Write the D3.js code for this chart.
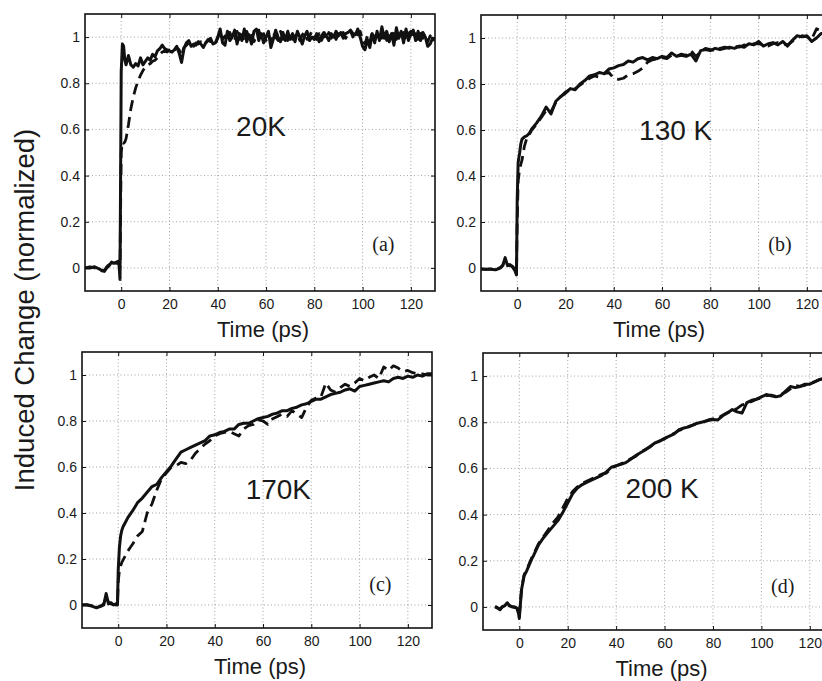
<!DOCTYPE html>
<meta charset="utf-8">
<script src="https://d3js.org/d3.v7.min.js"></script>
<style>
  body { margin: 0; background: #fff; }
  text { font-family: "Liberation Sans", Arial, sans-serif; fill: #1a1a1a; }
</style>
<div id="chart"></div>
<script>

// ---- data ----
var xTicks = [0, 20, 40, 60, 80, 100, 120];
var yTicks = [0, 0.2, 0.4, 0.6, 0.8, 1];

// (a) 20K : 1 ps sampling after the rise
var timeA = [-15, -13, -11, -9, -8, -7, -6, -5, -4, -3, -2, -1, -0.5, 0, 0.5, 1, 1.5].concat(d3.range(2, 131, 1));
var solidA = [0, 0, 0.005, -0.005, -0.012, -0.015, 0, 0.01, 0.025, 0.02, 0.025, 0.03, -0.05, 0.85, 0.97, 0.96, 0.9,
  0.88, 0.92, 0.88, 0.87, 0.885, 0.875, 0.91, 0.88, 0.895, 0.91, 0.9, 0.925, 0.915, 0.94, 0.95, 0.965, 0.95, 0.945, 0.94,
  0.935, 0.945, 0.96, 0.93, 0.89, 0.95, 0.975, 0.985, 0.96, 0.97, 0.965, 0.98, 0.97, 0.955, 0.975, 0.985, 0.995, 0.97, 0.975,
  1.0, 1.035, 0.975, 0.965, 1.025, 0.985, 1.0, 1.03, 0.97, 1.015, 0.985, 1.035, 0.98, 1.01, 0.97, 1.025, 1.035, 0.985, 1.015, 0.975,
  1.0, 1.025, 0.955, 0.99, 1.03, 1.0, 0.98, 1.02, 0.985, 1.025, 0.99, 1.015, 0.98, 1.025, 1.0, 0.97, 1.005, 1.025, 0.985, 1.0,
  0.99, 1.015, 0.98, 1.005, 1.02, 1.005, 0.985, 1.015, 1.0, 1.025, 1.005, 1.02, 0.995, 1.015, 1.02, 1.03, 1.015, 1.01, 1.035, 1.0,
  0.96, 0.945, 0.99, 0.955, 1.015, 0.975, 1.025, 0.985, 1.045, 0.995, 1.025, 0.98, 1.015, 0.965, 1.04, 0.995, 1.025, 0.975, 1.035, 0.985,
  1.015, 1.03, 0.985, 1.025, 0.985, 1.02, 1.0, 0.96, 0.97, 0.995, 0.985];
var dashedA = [0, 0.005, 0, -0.005, -0.01, -0.012, 0.005, 0.015, 0.02, 0.025, 0.02, 0.02, 0, 0.5, 0.545, 0.54, 0.545,
  0.56, 0.62, 0.69, 0.74, 0.78, 0.81, 0.835, 0.855, 0.87, 0.88, 0.885, 0.895, 0.9, 0.91, 0.925, 0.935, 0.94, 0.935, 0.945,
  0.95, 0.94, 0.955, 0.945, 0.92, 0.955, 0.965, 0.975, 0.97, 0.96, 0.975, 0.97, 0.98, 0.965, 0.975, 0.99, 0.98, 0.985, 0.97,
  0.995, 1.025, 0.99, 1.005, 0.98, 1.02, 0.995, 0.985, 1.025, 0.99, 1.01, 0.985, 1.025, 0.995, 1.015, 0.98, 1.005, 1.03, 0.99, 1.015,
  0.985, 1.01, 0.98, 1.02, 1.0, 0.985, 1.025, 0.99, 1.015, 0.985, 1.02, 0.99, 1.005, 1.015, 0.985, 1.01, 1.02, 0.99, 1.005, 1.025,
  1.0, 0.99, 1.015, 0.985, 1.01, 0.99, 1.02, 0.995, 1.015, 0.99, 1.015, 1.0, 1.02, 0.995, 1.015, 1.025, 1.0, 1.03, 1.01, 1.025,
  0.99, 0.97, 1.005, 0.975, 1.025, 0.99, 1.01, 1.025, 0.995, 1.035, 0.985, 1.015, 0.995, 1.025, 0.99, 1.015, 0.995, 1.02, 0.985, 1.015,
  1.025, 0.995, 1.015, 0.99, 1.025, 0.995, 1.015, 0.98, 1.005, 1.015, 1.0];

// (b) 130 K
var timeB = [-15, -13, -11, -9, -7, -6, -5, -4, -3, -2, -1, -0.3, 0, 0.4, 1, 1.5, 2, 3, 4, 5].concat(d3.range(6, 131, 2));
var solidB = [-0.005, -0.005, -0.005, -0.008, 0, 0.01, 0.045, 0.01, 0.015, 0.005, -0.01, -0.03, 0.3, 0.46, 0.5, 0.54, 0.56, 0.57, 0.575, 0.585,
  0.605, 0.63, 0.66, 0.7, 0.67, 0.725, 0.745, 0.76, 0.78, 0.775, 0.8, 0.815, 0.835, 0.84, 0.85, 0.845, 0.865, 0.87, 0.88,
  0.885, 0.9, 0.895, 0.91, 0.915, 0.905, 0.915, 0.91, 0.92, 0.915, 0.935, 0.92, 0.925, 0.92, 0.93, 0.9, 0.945, 0.95, 0.945,
  0.955, 0.95, 0.955, 0.96, 0.955, 0.965, 0.96, 0.975, 0.97, 0.985, 0.965, 0.975, 0.98, 0.97, 0.985, 0.965, 0.99, 1.01,
  1.005, 1.01, 0.985, 1.0, 1.02, 1.015, 1.02];
var dashedB = [-0.003, -0.006, -0.004, -0.006, 0.002, 0.012, 0.035, 0.015, 0.01, 0.008, -0.005, -0.02, 0.2, 0.38, 0.43, 0.45, 0.47, 0.53, 0.565, 0.58,
  0.6, 0.625, 0.655, 0.685, 0.68, 0.72, 0.745, 0.765, 0.775, 0.78, 0.795, 0.81, 0.825, 0.835, 0.83, 0.845, 0.85, 0.825, 0.82,
  0.825, 0.84, 0.845, 0.855, 0.87, 0.895, 0.905, 0.91, 0.915, 0.91, 0.925, 0.92, 0.93, 0.925, 0.945, 0.92, 0.94, 0.955, 0.95,
  0.945, 0.955, 0.96, 0.955, 0.965, 0.96, 0.97, 0.965, 0.975, 0.975, 0.97, 0.965, 0.975, 0.98, 0.975, 0.97, 0.985, 1.0,
  1.01, 1.005, 0.995, 1.04, 1.03, 1.035, 1.03];

// (c) 170K
var timeC = [-15, -13, -11, -9, -7, -6, -5, -4, -3, -2, -1, -0.3, 0, 0.5, 1, 1.5, 2, 3, 4, 5].concat(d3.range(6, 131, 2));
var solidC = [0, 0, -0.005, -0.012, -0.005, 0, 0.05, 0.005, 0.01, 0, 0.005, 0, 0.15, 0.25, 0.3, 0.325, 0.34, 0.36, 0.38, 0.395,
  0.41, 0.445, 0.465, 0.49, 0.515, 0.525, 0.555, 0.58, 0.605, 0.635, 0.665, 0.675, 0.685, 0.695, 0.705, 0.715, 0.735, 0.74,
  0.75, 0.755, 0.765, 0.765, 0.785, 0.79, 0.79, 0.8, 0.81, 0.815, 0.82, 0.83, 0.835, 0.845, 0.845, 0.855, 0.86, 0.87, 0.875,
  0.885, 0.895, 0.895, 0.905, 0.915, 0.92, 0.925, 0.935, 0.94, 0.93, 0.95, 0.955, 0.96, 0.965, 0.97, 0.975, 0.97, 0.985,
  0.99, 0.985, 0.995, 0.99, 1.0, 0.995, 1.005, 1.005];
var dashedC = [0, 0.002, -0.003, -0.01, -0.003, 0.005, 0.035, 0.01, 0.005, 0.003, 0, 0, 0.1, 0.15, 0.17, 0.185, 0.195, 0.215, 0.235, 0.25,
  0.265, 0.3, 0.32, 0.4, 0.44, 0.5, 0.55, 0.575, 0.6, 0.605, 0.62, 0.615, 0.63, 0.66, 0.68, 0.7, 0.715, 0.735, 0.745, 0.75,
  0.755, 0.745, 0.735, 0.765, 0.78, 0.785, 0.805, 0.8, 0.785, 0.81, 0.82, 0.83, 0.82, 0.845, 0.83, 0.815, 0.86, 0.89, 0.9,
  0.905, 0.965, 0.935, 0.925, 0.945, 0.96, 0.95, 0.965, 0.985, 0.975, 0.99, 1.0, 0.985, 1.035, 1.02, 1.04, 1.03, 1.015,
  1.02, 1.01, 1.005, 1.005, 1.0, 1.0];

// (d) 200 K
var timeD = [-10, -9, -8, -7, -6, -5, -4, -3, -2, -1, -0.3, 0, 0.5, 1, 2, 3, 4, 5].concat(d3.range(6, 131, 2));
var solidD = [0, -0.005, -0.012, 0, 0.005, 0.018, 0.005, 0, 0, -0.005, -0.03, -0.05, 0.02, 0.08, 0.135, 0.155, 0.18, 0.205,
  0.225, 0.27, 0.3, 0.325, 0.35, 0.375, 0.41, 0.45, 0.49, 0.515, 0.53, 0.54, 0.55, 0.56, 0.57, 0.585, 0.605, 0.612, 0.618,
  0.625, 0.64, 0.655, 0.668, 0.68, 0.695, 0.71, 0.718, 0.73, 0.74, 0.75, 0.768, 0.775, 0.78, 0.79, 0.797, 0.802, 0.808,
  0.812, 0.81, 0.828, 0.84, 0.855, 0.845, 0.84, 0.885, 0.895, 0.9, 0.91, 0.92, 0.915, 0.91, 0.915, 0.935, 0.955, 0.95,
  0.955, 0.965, 0.965, 0.975, 0.985, 0.99, 0.995, 1.0];
var dashedD = [0.003, -0.003, -0.01, 0.002, 0.006, 0.015, 0.004, 0.002, -0.002, -0.006, -0.025, -0.04, 0.03, 0.085, 0.14, 0.16, 0.185, 0.21,
  0.23, 0.275, 0.305, 0.335, 0.365, 0.39, 0.43, 0.47, 0.5, 0.52, 0.535, 0.545, 0.555, 0.565, 0.575, 0.58, 0.6, 0.61, 0.62,
  0.628, 0.642, 0.652, 0.67, 0.682, 0.693, 0.708, 0.72, 0.728, 0.742, 0.752, 0.765, 0.772, 0.782, 0.788, 0.8, 0.8, 0.81,
  0.815, 0.818, 0.83, 0.842, 0.85, 0.86, 0.875, 0.88, 0.89, 0.9, 0.905, 0.915, 0.918, 0.912, 0.92, 0.93, 0.945, 0.96,
  0.955, 0.96, 0.97, 0.975, 0.985, 0.99, 1.0, 1.0];

// ---- layout ----
var W = 822, H = 681;
var panels = [
  {left: 85,  top: 14,  width: 350, height: 277, time: timeA, solid: solidA, dashed: dashedA, temp: "20K",   tempAt: [47.6, 0.572], letter: "(a)", letterAt: [104, 0.072]},
  {left: 481, top: 15,  width: 350, height: 276, time: timeB, solid: solidB, dashed: dashedB, temp: "130 K", tempAt: [50.5, 0.558], letter: "(b)", letterAt: [104, 0.072]},
  {left: 82,  top: 352, width: 350, height: 276, time: timeC, solid: solidC, dashed: dashedC, temp: "170K",  tempAt: [52.8, 0.46],  letter: "(c)", letterAt: [104, 0.06]},
  {left: 483, top: 353, width: 351, height: 277, time: timeD, solid: solidD, dashed: dashedD, temp: "200 K", tempAt: [43.9, 0.473], letter: "(d)", letterAt: [104, 0.062]}
];

var svg = d3.select("#chart").append("svg")
  .attr("width", W)
  .attr("height", H);

panels.forEach(function(p, i) {
  var x = d3.scaleLinear().domain([-15, 130]).range([0, p.width]);
  var y = d3.scaleLinear().domain([-0.1, 1.1]).range([p.height, 0]);

  var g = svg.append("g").attr("transform", "translate(" + p.left + "," + p.top + ")");

  g.append("clipPath").attr("id", "clip" + i)
    .append("rect").attr("width", p.width).attr("height", p.height);

  // dotted grid
  g.selectAll(".gx").data(xTicks).enter().append("line")
    .attr("x1", function(d) { return x(d); }).attr("x2", function(d) { return x(d); })
    .attr("y1", 0).attr("y2", p.height)
    .attr("stroke", "#9a9a9a").attr("stroke-width", 0.9).attr("stroke-dasharray", "1,2.5");
  g.selectAll(".gy").data(yTicks).enter().append("line")
    .attr("y1", function(d) { return y(d); }).attr("y2", function(d) { return y(d); })
    .attr("x1", 0).attr("x2", p.width)
    .attr("stroke", "#9a9a9a").attr("stroke-width", 0.9).attr("stroke-dasharray", "1,2.5");

  // axes, matlab style: ticks inside, on all sides
  var tl = 4;
  g.append("g").attr("transform", "translate(0," + p.height + ")")
    .call(d3.axisBottom(x).tickValues(xTicks).tickSizeInner(-tl).tickSizeOuter(0).tickPadding(8).tickFormat(d3.format("d")));
  g.append("g")
    .call(d3.axisTop(x).tickValues(xTicks).tickSizeInner(-tl).tickSizeOuter(0).tickFormat(""));
  g.append("g")
    .call(d3.axisLeft(y).tickValues(yTicks).tickSizeInner(-tl).tickSizeOuter(0).tickPadding(5)
      .tickFormat(function(d) { return d === 0 || d === 1 ? d3.format("d")(d) : d3.format(".1f")(d); }));
  g.append("g").attr("transform", "translate(" + p.width + ",0)")
    .call(d3.axisRight(y).tickValues(yTicks).tickSizeInner(-tl).tickSizeOuter(0).tickFormat(""));
  g.selectAll(".domain").remove();
  g.selectAll(".tick line").attr("stroke", "#111").attr("stroke-width", 1);
  g.selectAll(".tick text").style("font-size", "14px").attr("fill", "#222");

  // curves
  var line = d3.line()
    .x(function(d) { return x(d[0]); })
    .y(function(d) { return y(d[1]); });
  var plot = g.append("g").attr("clip-path", "url(#clip" + i + ")");
  plot.append("path")
    .datum(d3.zip(p.time, p.dashed))
    .attr("d", line)
    .attr("fill", "none").attr("stroke", "#111").attr("stroke-width", 2.8)
    .attr("stroke-linejoin", "round").attr("stroke-dasharray", "11,6");
  plot.append("path")
    .datum(d3.zip(p.time, p.solid))
    .attr("d", line)
    .attr("fill", "none").attr("stroke", "#111").attr("stroke-width", 3)
    .attr("stroke-linejoin", "round");

  // frame
  g.append("rect").attr("width", p.width).attr("height", p.height)
    .attr("fill", "none").attr("stroke", "#111").attr("stroke-width", 1.6);

  // labels inside the plot
  g.append("text")
    .attr("x", x(p.tempAt[0])).attr("y", y(p.tempAt[1]))
    .style("font-size", "28px")
    .text(p.temp);
  g.append("text")
    .attr("x", x(p.letterAt[0])).attr("y", y(p.letterAt[1]))
    .style("font-family", "'Liberation Serif', 'Times New Roman', serif")
    .style("font-size", "20px")
    .text(p.letter);

  // x axis title
  g.append("text")
    .attr("x", p.width / 2 + 3).attr("y", p.height + 46)
    .attr("text-anchor", "middle")
    .style("font-size", "22px")
    .text("Time (ps)");
});

// shared y title
svg.append("text")
  .attr("transform", "translate(34,310) rotate(-90)")
  .attr("text-anchor", "middle")
  .style("font-size", "27.5px")
  .text("Induced Change (normalized)");

</script>
